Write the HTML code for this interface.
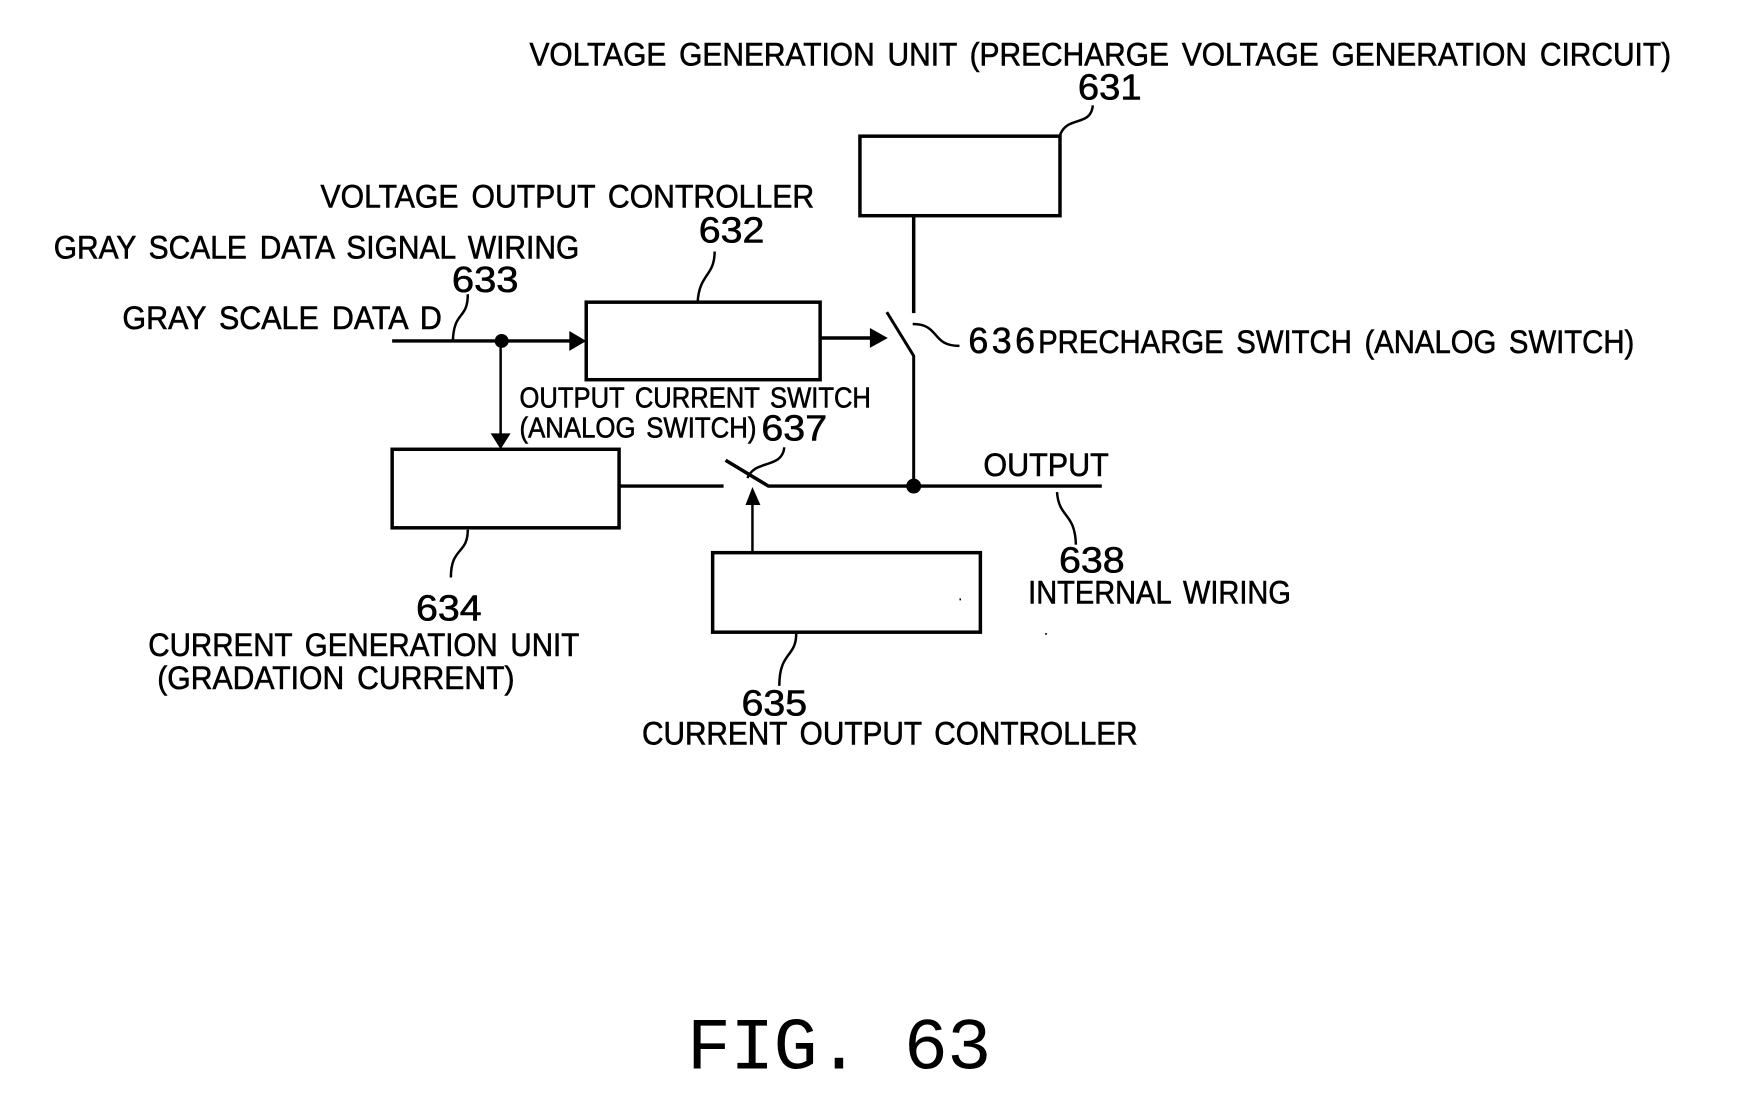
<!DOCTYPE html>
<html>
<head>
<meta charset="utf-8">
<style>
html,body{margin:0;padding:0;background:#fff;width:1744px;height:1102px;overflow:hidden}
svg{display:block}
text{font-family:"Liberation Sans",sans-serif;fill:#000;font-size:33px;stroke:#000;stroke-width:.6px;word-spacing:5px}
.n{font-size:36px}
.s{font-size:29px;word-spacing:4px}
</style>
</head>
<body>
<svg width="1744" height="1102" viewBox="0 0 1744 1102" xmlns="http://www.w3.org/2000/svg">
<g transform="scale(0.9953,0.994)">
<g fill="none" stroke="#000" stroke-width="3.5">
  <rect x="864" y="137" width="201" height="80"/>
  <rect x="589" y="304" width="235" height="78"/>
  <rect x="394" y="452" width="228" height="79"/>
  <rect x="716" y="556" width="269" height="80"/>
  <path d="M394 343H580" stroke-width="3.5"/>
  <path d="M503 343V440" stroke-width="2.5"/>
  <path d="M824 340H880"/>
  <path d="M918 217V315"/>
  <path d="M891 314L918 358V489" stroke-width="3"/>
  <path d="M622 489H727"/>
  <path d="M729 463L772 489H1107"/>
  <path d="M756 556V505" stroke-width="2.5"/>
  <g stroke-width="2.5">
    <path d="M1098 106C1096 128 1072 116 1065 136"/>
    <path d="M718 253C718 278 703 275 701 303"/>
    <path d="M470 296C470 322 456 312 455 343"/>
    <path d="M917 326C945 326 935 348 964 348"/>
    <path d="M788 450C786 472 758 462 751 481"/>
    <path d="M1062 495C1064 522 1080 515 1081 548"/>
    <path d="M470 533C470 558 453 550 453 581"/>
    <path d="M800 637C800 662 783 655 783 690"/>
  </g>
</g>
<g fill="#000">
  <circle cx="504" cy="343" r="7"/>
  <circle cx="918" cy="489" r="7.5"/>
  <path d="M572 333L589 343L572 353Z"/>
  <path d="M493 436H513L503 452Z"/>
  <path d="M874 330L892 340L874 350Z"/>
  <path d="M749 508L756 490L764 508Z"/>
  <rect x="964" y="602" width="1.5" height="2"/>
  <rect x="1050" y="637" width="2" height="1.5"/>
</g>
<text x="532" y="66" textLength="1147" lengthAdjust="spacingAndGlyphs">VOLTAGE GENERATION UNIT (PRECHARGE VOLTAGE GENERATION CIRCUIT)</text>
<text class="n" x="1083" y="100" textLength="64" lengthAdjust="spacingAndGlyphs">631</text>
<text x="322" y="209" textLength="496" lengthAdjust="spacingAndGlyphs">VOLTAGE OUTPUT CONTROLLER</text>
<text class="n" x="702" y="244" textLength="66" lengthAdjust="spacingAndGlyphs">632</text>
<text x="54" y="260" textLength="528" lengthAdjust="spacingAndGlyphs">GRAY SCALE DATA SIGNAL WIRING</text>
<text class="n" x="454" y="294" textLength="67" lengthAdjust="spacingAndGlyphs">633</text>
<text x="123" y="331" textLength="321" lengthAdjust="spacingAndGlyphs">GRAY SCALE DATA D</text>
<text class="n" x="973" y="355" textLength="67" lengthAdjust="spacing">636</text>
<text x="1043" y="355" textLength="599" lengthAdjust="spacingAndGlyphs">PRECHARGE SWITCH (ANALOG SWITCH)</text>
<text class="s" x="522" y="410" textLength="353" lengthAdjust="spacingAndGlyphs">OUTPUT CURRENT SWITCH</text>
<text class="s" x="522" y="440" textLength="238" lengthAdjust="spacingAndGlyphs">(ANALOG SWITCH)</text>
<text class="n" x="765" y="443" textLength="66" lengthAdjust="spacingAndGlyphs">637</text>
<text x="988" y="479" textLength="126" lengthAdjust="spacingAndGlyphs">OUTPUT</text>
<text class="n" x="1064" y="576" textLength="66" lengthAdjust="spacingAndGlyphs">638</text>
<text x="1033" y="607" textLength="264" lengthAdjust="spacingAndGlyphs">INTERNAL WIRING</text>
<text class="n" x="418" y="624" textLength="66" lengthAdjust="spacingAndGlyphs">634</text>
<text x="149" y="660" textLength="433" lengthAdjust="spacingAndGlyphs">CURRENT GENERATION UNIT</text>
<text x="158" y="693" textLength="359" lengthAdjust="spacingAndGlyphs">(GRADATION CURRENT)</text>
<text class="n" x="745" y="720" textLength="66" lengthAdjust="spacingAndGlyphs">635</text>
<text x="645" y="749" textLength="498" lengthAdjust="spacingAndGlyphs">CURRENT OUTPUT CONTROLLER</text>
<text x="690" y="1075" style="font-family:'Liberation Mono',monospace;font-size:74px;stroke-width:0;word-spacing:0" textLength="306" lengthAdjust="spacing">FIG. 63</text>
</g>
</svg>
</body>
</html>
